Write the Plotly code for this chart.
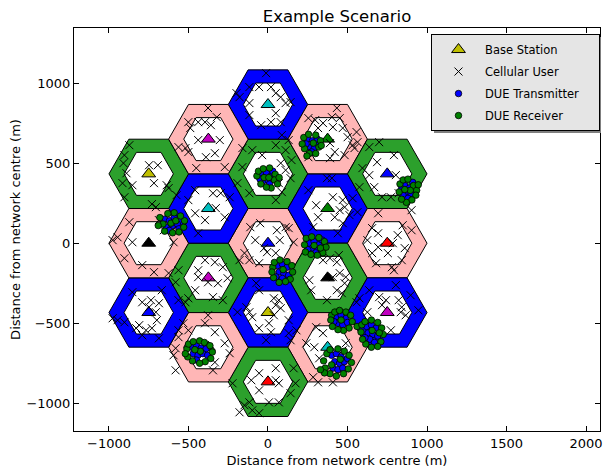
import math
import plotly.graph_objects as go

# ---------------- data ----------------
cell_x = [0, 0, 375, 375, 0, -375, -375, 0, 375, 750, 750, 750, 375, 0, -375, -750, -750, -750, -375]
cell_y = [0, 433, 216.5, -216.5, -433, -216.5, 216.5, 866, 650, 433, 0, -433, -650, -866, -650, -433, 0, 433, 650]
ring_colors = ["pink", "green", "blue", "green", "blue", "green", "blue", "blue", "pink", "green",
               "pink", "blue", "pink", "green", "pink", "blue", "pink", "green", "pink"]
bs_colors = ["b", "r", "g", "k", "y", "m", "c", "c", "g", "b",
             "r", "m", "c", "r", "g", "b", "k", "y", "m"]
cell_radius = 250
inner_radius = 155

user_x = [
    -872, -903, -909, -890, -915, -853, -903, -748, -693, -717, -637, -625, -730, -705,
    -377, -439, -396, -359, -501, -489, -439, -519, -501, -390, -451, -563, -322, -303, -334, -272,
    -12, -198, -179, -117, -56, 19, 49, 80, -117, 111, 142, 49, 19, -43, 80, 87, -117,
    433, 402, 451, 346, 408, 470, 501, 557, 532, 544, 390, 420, 390, 482, 563, 254, 297, 315, 254,
    -99, 49, 111, -37, 148, 80, 111, 142, 68, 87, 49, -117, -192, -161, 130, -161,
    637, 699, 792, 686, 594, 637, 668, 717, 773, 804, 822, 575,
    -458, -501, -458, -439, -396, -346, -575, -297, -328, -241, -272, -581,
    371, 402, 408, 470, 451, 482, 420, 470, 532, 513, 439, 563, 303, 315, 284, 254,
    -853, -946, -872, -594, -655, -791, -717, -625, -977, -903, -686,
    -111, -49, 56, 130, 161, -80, -25, -148, -56, -117, 49, 74, -6, -179, 111,
    655, 693, 625, 693, 655, 754, 785, 816, 847, 860, 841, 903, 903, 779, 693, 792, 680,
    -563, -581, -439, -458, -377, -439, -396, -501, -519, -334, -284, -254, -315, -346, -284,
    390, 433, 451, 408, 482, 433, 464, 371, 346, 260, 272, 445, 489,
    -791, -736, -686, -748, -705, -699, -730, -767, -810, -829, -791, -853, -977, -946, -903, -686, -668, -563,
    -74, -56, -136, -117, -99, 37, 68, 49, 80, 37, 6, -12, 19, 130, 130, -56, -192, 142,
    699, 742, 717, 822, 841, 804, 625, 835, 773, 866, 946, 897, 557, 575, 637,
    -563, -501, -581, -594, -532, -396, -334, -272, -241, -334, -346, -563, -377, -581,
    303, 346, 241, 291, 322, 470, 489, 284, 315, 408, 179,
    49, -56, -105, 49, 68, -56, 6, 68, -117, -148, -99, -56, -179, -223, 161, 173, 142,
]
user_y = [
    612, 550, 500, 437, 375, 362, 287, 487, 487, 375, 362, 344, 244, 225,
    844, 756, 756, 737, 756, 719, 644, 594, 569, 537, 469, 600, 787, 644, 562, 475,
    1062, 937, 912, 975, 975, 975, 937, 912, 875, 875, 881, 812, 756, 737, 756, 675, 800,
    844, 787, 781, 750, 725, 719, 662, 694, 612, 594, 625, 569, 531, 550, 631, 781, 769, 719, 537,
    581, 612, 581, 550, 519, 500, 456, 406, 375, 319, 269, 312, 375, 594, 644, 475,
    600, 631, 550, 506, 469, 425, 350, 287, 287, 425, 312, 350,
    331, 269, 187, 62, 144, 312, 300, 312, 219, 287, 162, 100,
    406, 406, 287, 269, 206, 225, 162, 125, 281, 175, 62, 194, 237, 162, 100, 331,
    6, 37, 131, 6, 81, -137, -181, -187, 19, -94, 144,
    100, 125, 81, 94, 6, 19, -31, -62, -125, -106, -62, 19, -56, -106, 100,
    94, 62, 19, -25, -62, -62, 0, 50, 112, -31, -106, 81, 206, -150, 187, -169, -125,
    -169, -244, -212, -294, -244, -169, -106, -344, -369, -119, -150, -219, -250, -337, -356,
    -94, -119, -187, -212, -250, -294, -312, -356, -106, -231, -294, -75, -212,
    -369, -356, -375, -400, -431, -481, -531, -544, -512, -531, -575, -306, -469, -481, -494, -594, -294, -356,
    -250, -294, -400, -431, -462, -344, -356, -387, -406, -450, -500, -606, -556, -562, -481, -531, -431, -606,
    -337, -356, -387, -356, -400, -262, -431, -431, -544, -450, -419, -325, -369, -344, -294,
    -544, -544, -656, -700, -500, -500, -556, -625, -687, -744, -794, -587, -450, -794,
    -525, -562, -625, -650, -719, -669, -625, -837, -869, -869, -544,
    -781, -812, -856, -856, -875, -919, -994, -994, -994, -1012, -1044, -1062, -1056, -875, -781, -875, -937,
]

tx_x = [250, 280, 300, 265, 290, 240, 310, 275,
        -40, -10, 20, -30, 0, 10, -50, 30,
        860, 890, 870, 900, 850, 880, 910, 840,
        -650, -620, -590, -600, -570, -640, -560, -620,
        260, 290, 320, 280, 310, 250, 340, 300,
        60, 90, 120, 70, 100, 130, 50, 90,
        430, 460, 490, 440, 470, 500, 415,
        620, 650, 680, 630, 660, 690, 640, 670, 610,
        400, 430, 460, 420, 450, 480, 410, 440, 470, 500,
        -480, -450, -420, -390, -470, -440, -410, -380, -450]
tx_y = [650, 640, 620, 600, 590, 620, 650, 570,
        430, 440, 420, 390, 395, 370, 400, 450,
        360, 345, 320, 310, 300, 280, 380, 340,
        150, 140, 160, 110, 120, 100, 90, 80,
        0, 10, -10, -30, -45, -40, 20, -60,
        -140, -130, -150, -180, -190, -200, -210, -220,
        -460, -450, -470, -500, -510, -495, -490,
        -520, -510, -530, -560, -570, -580, -600, -620, -590,
        -700, -690, -710, -740, -750, -740, -780, -790, -780, -720,
        -650, -640, -655, -660, -690, -700, -690, -700, -730]
rx_x = [225, 255, 300, 330, 320, 230, 260, 300, 215, 285, 245, 335,
        -70, -60, -30, 10, 45, 40, 60, 20, -10, -45, -25, 5, 70,
        830, 850, 880, 915, 935, 930, 905, 870, 840, 825, 895, 860, 945,
        -680, -660, -650, -600, -560, -530, -525, -550, -590, -630, -610, -580, -690,
        230, 240, 275, 320, 355, 365, 345, 310, 270, 235, 290, 330,
        30, 40, 75, 120, 150, 155, 140, 110, 70, 35, 25, 95,
        400, 420, 450, 490, 520, 530, 510, 475, 440, 405, 395, 460, 560,
        590, 610, 650, 690, 715, 725, 710, 690, 650, 615, 595, 585, 655, 700,
        370, 390, 440, 480, 510, 525, 505, 475, 430, 390, 360, 350, 455, 400, 355, 330,
        -510, -500, -470, -430, -400, -365, -350, -360, -395, -430, -475, -505, -520, -425, -460]
rx_y = [660, 680, 675, 640, 600, 590, 560, 560, 620, 625, 545, 610,
        420, 450, 465, 470, 430, 395, 370, 345, 350, 370, 410, 410, 410,
        370, 395, 400, 360, 330, 300, 270, 255, 275, 320, 330, 335, 365,
        160, 120, 75, 65, 70, 100, 140, 170, 190, 185, 125, 140, 110,
        -10, 30, 40, 35, 10, -25, -60, -75, -70, -55, -15, -30,
        -150, -120, -105, -115, -140, -180, -225, -240, -245, -215, -180, -165,
        -450, -430, -420, -430, -450, -490, -530, -545, -540, -520, -480, -480, -520,
        -510, -490, -480, -495, -530, -570, -615, -645, -650, -630, -600, -555, -545, -560,
        -690, -665, -660, -675, -700, -745, -785, -815, -830, -815, -780, -735, -725, -760, -810, -790,
        -660, -630, -615, -610, -620, -640, -680, -720, -740, -750, -735, -710, -690, -675, -665]

x_ticks = [-1000, -500, 0, 500, 1000, 1500, 2000]
y_ticks = [-1000, -500, 0, 500, 1000]
x_range = [-1220, 2088]
y_range = [-1173, 1344]

# ---------------- styles ----------------
RING = {"pink": "#ffb6b6", "green": "#2ca02c", "blue": "#0000ff"}
MPL = {"b": "#0000ff", "g": "#008000", "r": "#ff0000", "c": "#00bfbf",
       "m": "#bf00bf", "y": "#bfbf00", "k": "#000000"}
FONT = "DejaVu Sans"
PAD = "\u00a0" * 4


def hexagon(cx, cy, r):
    xs, ys = [], []
    for k in range(7):
        a = math.radians(60 * k)
        xs.append(cx + r * math.cos(a))
        ys.append(cy + r * math.sin(a))
    return xs, ys


fig = go.Figure()

for cx, cy, rc in zip(cell_x, cell_y, ring_colors):
    hx, hy = hexagon(cx, cy, cell_radius)
    fig.add_trace(go.Scatter(x=hx, y=hy, mode="lines", fill="toself",
                             fillcolor=RING[rc], line=dict(color="black", width=1),
                             hoverinfo="skip", showlegend=False))
    ix, iy = hexagon(cx, cy, inner_radius)
    fig.add_trace(go.Scatter(x=ix, y=iy, mode="lines", fill="toself",
                             fillcolor="white", line=dict(color="black", width=1),
                             hoverinfo="skip", showlegend=False))

# base stations
fig.add_trace(go.Scatter(x=cell_x, y=cell_y, mode="markers", showlegend=False,
                         marker=dict(symbol="triangle-up", size=12,
                                     color=[MPL[c] for c in bs_colors],
                                     line=dict(color="black", width=1))))
# legend entry for base station
fig.add_trace(go.Scatter(x=[None], y=[None], mode="markers", name="Base Station",
                         legendgroup="a",
                         marker=dict(symbol="triangle-up", size=12, color=MPL["y"],
                                     line=dict(color="black", width=1))))
fig.add_trace(go.Scatter(x=user_x, y=user_y, mode="markers", name="Cellular User",
                         legendgroup="b",
                         marker=dict(symbol="x-thin", size=8, color="black",
                                     line=dict(color="black", width=1))))
fig.add_trace(go.Scatter(x=tx_x, y=tx_y, mode="markers", name="DUE Transmitter" + PAD,
                         legendgroup="c",
                         marker=dict(symbol="circle", size=6.5, color=MPL["b"],
                                     line=dict(color="black", width=0.8))))
fig.add_trace(go.Scatter(x=rx_x, y=rx_y, mode="markers", name="DUE Receiver",
                         legendgroup="d",
                         marker=dict(symbol="circle", size=6.5, color=MPL["g"],
                                     line=dict(color="black", width=0.8))))

axis_common = dict(showgrid=False, zeroline=False, showline=True, linecolor="black",
                   linewidth=1, mirror="allticks", ticks="inside", ticklen=5,
                   tickcolor="black", automargin=False, ticklabeloverflow="allow",
                   tickfont=dict(family=FONT, size=13, color="black"))

# the page places the figure 8 px from the top-left corner (body margin),
# and the visible width ends at the body's right edge
fig.update_layout(
    width=595, height=462,
    margin=dict(l=66, r=3, t=20, b=39, autoexpand=False),
    paper_bgcolor="white", plot_bgcolor="white",
    font=dict(family=FONT, color="black"),
    title=dict(text="Example Scenario", x=0.5, xref="paper", y=0.983, yanchor="middle",
               font=dict(family=FONT, size=16.5, color="black")),
    xaxis=dict(range=x_range, tickvals=x_ticks,
               ticktext=[str(v).replace("-", "\u2212") for v in x_ticks],
               title=dict(text="Distance from network centre (m)", standoff=6,
                          font=dict(family=FONT, size=13)), **axis_common),
    yaxis=dict(range=y_range, tickvals=y_ticks,
               ticktext=[str(v).replace("-", "\u2212") for v in y_ticks],
               title=dict(text="Distance from network centre (m)", standoff=6,
                          font=dict(family=FONT, size=13)), **axis_common),
    legend=dict(x=0.6787, xanchor="left", y=0.985, yanchor="top",
                bgcolor="#e5e5e5", bordercolor="black", borderwidth=1,
                font=dict(family=FONT, size=11.5, color="black"),
                traceorder="grouped", tracegroupgap=3, itemwidth=43),
    shapes=[dict(type="rect", xref="paper", yref="paper",
                 x0=0.6844, x1=1.0019, y0=0.7395, y1=0.9777,
                 fillcolor="#808080", line=dict(width=0), layer="above")],
)

fig.write_html("out.html")
